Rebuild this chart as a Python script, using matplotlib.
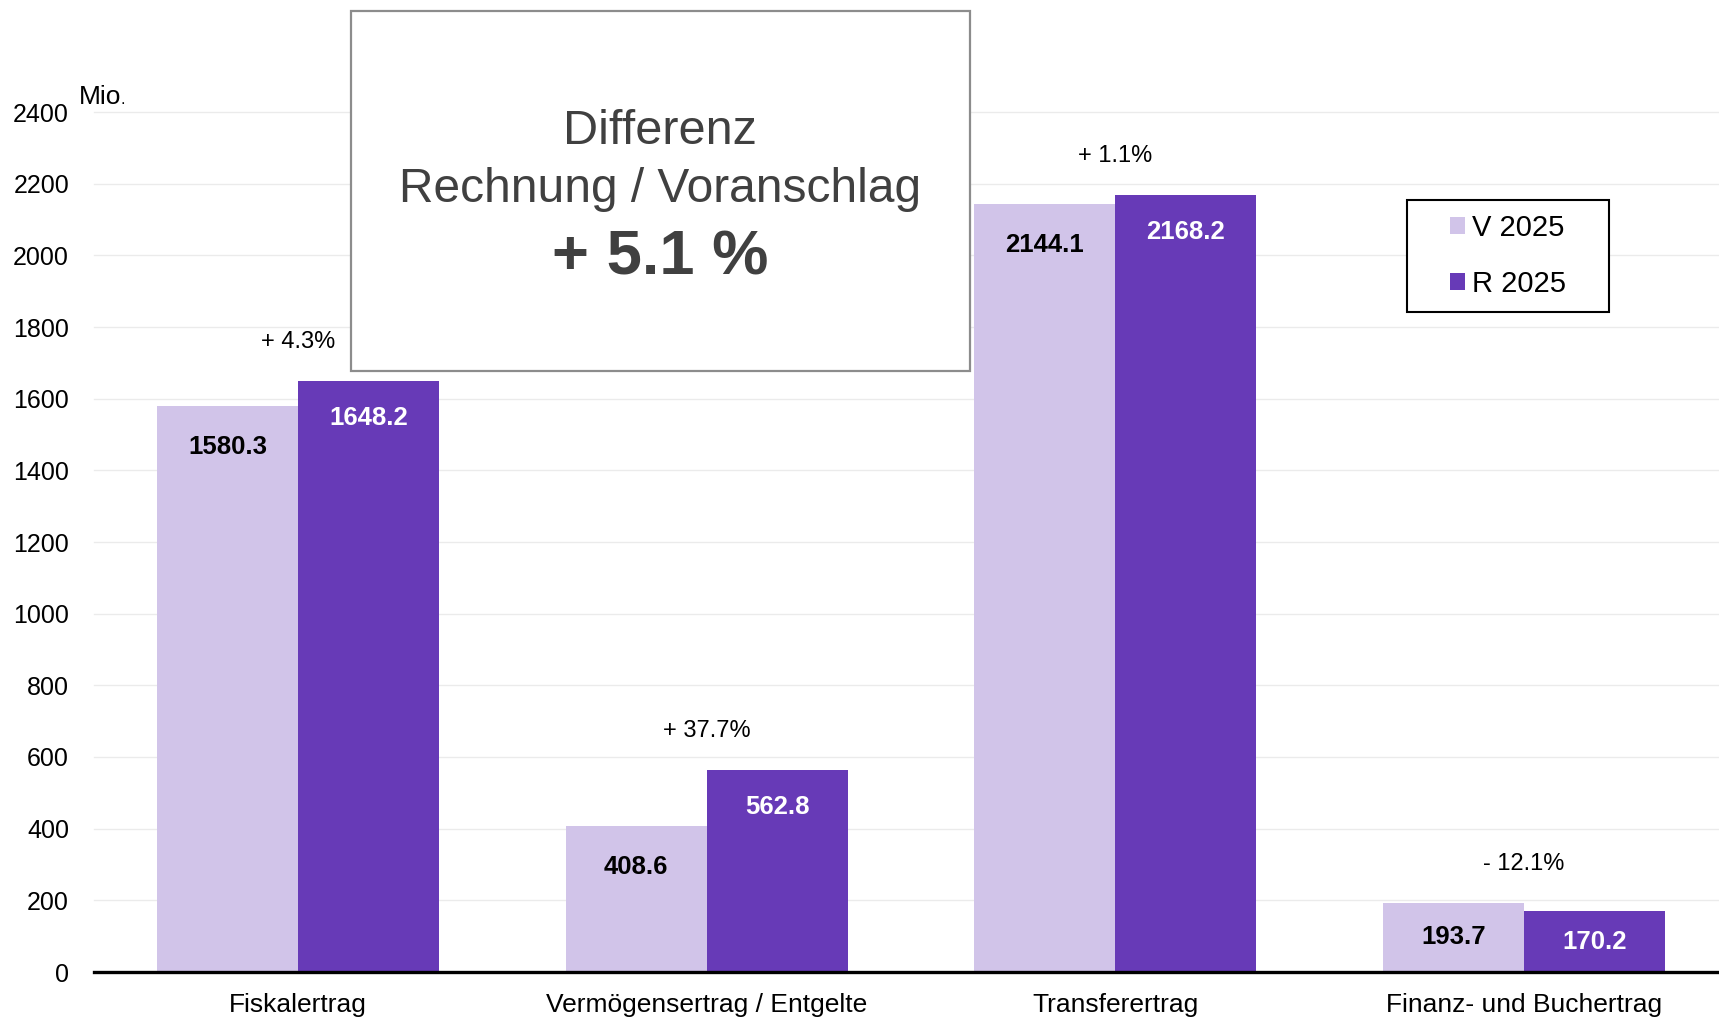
"""Ertrag: Voranschlag vs. Rechnung 2025, grouped bars."""
import numpy as np
import matplotlib
matplotlib.use('Agg')
import matplotlib.pyplot as plt
from matplotlib.patches import Patch, Rectangle

plt.rcParams['font.family'] = ['Liberation Sans', 'DejaVu Sans']

categories = ['Fiskalertrag', 'Vermögensertrag / Entgelte', 'Transferertrag',
              'Finanz- und Buchertrag']
v_2025 = [1580.3, 408.6, 2144.1, 193.7]
r_2025 = [1648.2, 562.8, 2168.2, 170.2]
diff_labels = ['+ 4.3%', '+ 37.7%', '+ 1.1%', '- 12.1%']
series_names = ['V 2025', 'R 2025']
y_ticks = [0, 200, 400, 600, 800, 1000, 1200, 1400, 1600, 1800, 2000, 2200, 2400]
box_lines = ['Differenz', 'Rechnung / Voranschlag', '+ 5.1 %']

LIGHT = '#D1C4E9'
DARK = '#673AB7'

W, H = 1719, 1017
fig = plt.figure(figsize=(W / 100, H / 100), dpi=100)

# axes geometry in pixels (from top): zero line at 972, 2400 grid at 112
y0_px, y2400_px = 972, 112
px_per_unit = (y0_px - y2400_px) / 2400
ymax = 2420
top_px = y0_px - ymax * px_per_unit
ax = fig.add_axes([94 / W, (H - y0_px) / H, 1 - 94 / W, (y0_px - top_px) / H])

x = np.arange(len(categories))
bw = 0.345
ax.bar(x - bw / 2, v_2025, bw, color=LIGHT, zorder=2)
ax.bar(x + bw / 2, r_2025, bw, color=DARK, zorder=2)

ax.set_xlim(-0.5, 3.478)
ax.set_ylim(0, ymax)
ax.set_yticks(y_ticks)
ax.set_xticks(x)
ax.set_xticklabels(categories, fontsize=19)
ax.tick_params(axis='both', length=0)
ax.tick_params(axis='y', labelsize=18, pad=18)
ax.tick_params(axis='x', pad=15)
ax.yaxis.grid(True, color='#EBEBEB', linewidth=1, zorder=0)
ax.set_axisbelow(True)
for side in ['top', 'right', 'left']:
    ax.spines[side].set_visible(False)
ax.spines['bottom'].set_linewidth(2.4)
ax.spines['bottom'].set_zorder(3)
for line in ax.get_ygridlines():
    line.set_clip_on(False)

# value labels inside the bars
for vals, dx, col, depth in [(v_2025, -bw / 2, 'black', 41), (r_2025, bw / 2, 'white', 37)]:
    for i, v in enumerate(vals):
        off = min(depth, 0.5 * v * px_per_unit) * 0.72
        ax.annotate(f'{v:.1f}', (i + dx, v), xytext=(0, -off), textcoords='offset points',
                    ha='center', va='center', fontsize=18.5, fontweight='bold', color=col,
                    zorder=4)

# percentage differences above each group
for i, lab in enumerate(diff_labels):
    top = max(v_2025[i], r_2025[i])
    ax.annotate(lab, (i, top), xytext=(0, 39 * 0.72), textcoords='offset points',
                ha='center', va='center', fontsize=17, color='black')

# unit label: "Mio" with a smaller full stop
fig.text(79 / W, 1 - 104 / H, 'Mio', fontsize=19, va='baseline', ha='left')
fig.text(121 / W, 1 - 104 / H, '.', fontsize=12, va='baseline', ha='left')

# summary box
box = Rectangle((351 / W, 1 - 371 / H), (970 - 351) / W, (371 - 11) / H,
                transform=fig.transFigure, facecolor='white', edgecolor='#8C8C8C',
                linewidth=1.6, zorder=10)
fig.patches.append(box)
fig.text(660 / W, 1 - 132 / H, box_lines[0], fontsize=35, color='#404040',
         ha='center', va='center', zorder=11)
fig.text(660 / W, 1 - 189 / H, box_lines[1], fontsize=34.5, color='#404040',
         ha='center', va='center', zorder=11)
fig.text(660 / W, 1 - 258 / H, box_lines[2], fontsize=45.5, fontweight='bold',
         color='#404040', ha='center', va='center', zorder=11)

# legend with its own frame
frame = Rectangle((1407 / W, 1 - 312 / H), (1609 - 1407) / W, (312 - 200) / H,
                  transform=fig.transFigure, facecolor='white', edgecolor='black',
                  linewidth=1.5, zorder=10)
fig.patches.append(frame)
handles = [Patch(facecolor=LIGHT, edgecolor='none'), Patch(facecolor=DARK, edgecolor='none')]
leg = fig.legend(handles, series_names, loc='center left',
                 bbox_to_anchor=(1450 / W, 1 - 256 / H), frameon=False, fontsize=21,
                 handlelength=0.52, handleheight=0.52, handletextpad=0.25,
                 labelspacing=0.95, borderpad=0, borderaxespad=0)
leg.set_zorder(12)

fig.savefig('out.png', dpi=100)
